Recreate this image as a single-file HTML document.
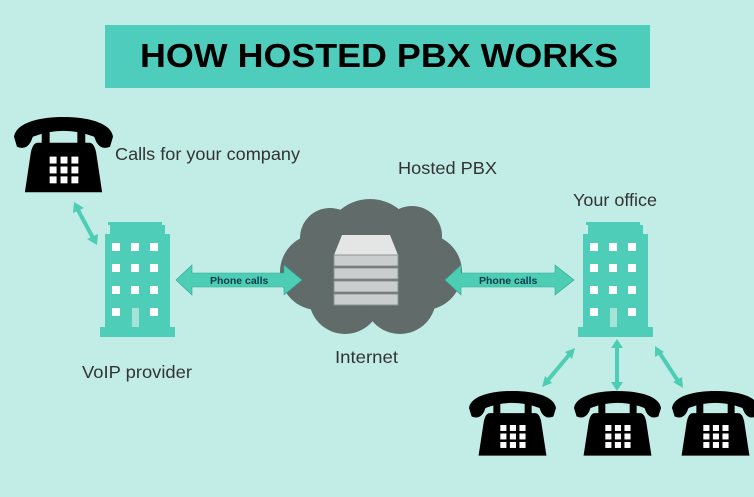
<!DOCTYPE html>
<html><head><meta charset="utf-8"><style>
html,body{margin:0;padding:0;background:#c1ede6;}
svg{display:block}
text{font-family:"Liberation Sans",sans-serif;}
</style></head><body>
<svg width="754" height="497" viewBox="0 0 754 497" xmlns="http://www.w3.org/2000/svg">
<defs>
<g id="phone">
<path d="M0,20 C2,6 25,0 50,0 C75,0 98,6 100,20 L97,30 Q88,34 83,25 L81,20 Q66,14 50,14 Q34,14 19,20 L17,25 Q12,34 3,30 Z" fill="#000"/>
<rect x="28" y="12" width="8" height="20" rx="3" fill="#000"/>
<rect x="64" y="12" width="8" height="20" rx="3" fill="#000"/>
<path d="M24,26 L76,26 Q81,26 83,36 L89,76 L11,76 L17,36 Q19,26 24,26 Z" fill="#000"/>
<g fill="#fff">
<rect x="36" y="40" width="7" height="7"/><rect x="47" y="40" width="7" height="7"/><rect x="58" y="40" width="7" height="7"/>
<rect x="36" y="50" width="7" height="7"/><rect x="47" y="50" width="7" height="7"/><rect x="58" y="50" width="7" height="7"/>
<rect x="36" y="60" width="7" height="7"/><rect x="47" y="60" width="7" height="7"/><rect x="58" y="60" width="7" height="7"/>
</g>
</g>
<g id="bld">
<path d="M8,0 L62,0 L62,3 L65,3 L65,12 L70,12 L70,105 L75,105 L75,115 L0,115 L0,105 L5,105 L5,12 L10,12 L10,3 L8,3 Z" fill="#4ecdb9"/>
<g fill="#fff">
<rect x="12" y="21" width="8" height="8"/><rect x="31" y="21" width="8" height="8"/><rect x="50" y="21" width="8" height="8"/>
<rect x="12" y="42" width="8" height="8"/><rect x="31" y="42" width="8" height="8"/><rect x="50" y="42" width="8" height="8"/>
<rect x="12" y="64" width="8" height="8"/><rect x="31" y="64" width="8" height="8"/><rect x="50" y="64" width="8" height="8"/>
<rect x="12" y="86" width="8" height="8"/><rect x="50" y="86" width="8" height="8"/>
</g>
<rect x="32" y="86" width="7" height="19" fill="#a5e3d8"/>
</g>
<g id="server">
<path d="M-24,-36 L24,-36 L32,-16 L-32,-16 Z" fill="#e4e6e6"/>
<g fill="#c9cdcd" stroke="#8c9393" stroke-width="1">
<rect x="-32" y="-16" width="64" height="11"/>
<rect x="-32" y="-3" width="64" height="11"/>
<rect x="-32" y="10" width="64" height="11"/>
<rect x="-32" y="23" width="64" height="11"/>
</g>
</g>
</defs>

<rect x="105" y="25" width="545" height="63" fill="#4ecdbd"/>
<text x="140" y="67" font-size="33" font-weight="bold" textLength="478" lengthAdjust="spacingAndGlyphs" fill="#000">HOW HOSTED PBX WORKS</text>

<use href="#phone" transform="translate(14,117) scale(0.99,0.99)"/>
<use href="#phone" transform="translate(469,391) scale(0.87,0.85)"/>
<use href="#phone" transform="translate(574,391) scale(0.87,0.85)"/>
<use href="#phone" transform="translate(672,391) scale(0.87,0.85)"/>

<use href="#bld" transform="translate(100,222)"/>
<use href="#bld" transform="translate(578,222)"/>

<g fill="#606b6a">
<circle cx="370" cy="245" r="46"/>
<circle cx="318" cy="272" r="38"/>
<circle cx="424" cy="272" r="38"/>
<circle cx="345" cy="298" r="36"/>
<circle cx="400" cy="298" r="36"/>
<circle cx="330" cy="238" r="30"/>
<circle cx="412" cy="236" r="30"/>
</g>
<use href="#server" transform="translate(366,271)"/>

<g fill="#4ecdb5" stroke="#2fa792" stroke-width="0.6">
<path d="M176,280 L192,265 L192,273 L284,273 L284,265 L302,280 L284,295 L284,287 L192,287 L192,295 Z"/>
<path d="M445,280 L461,265 L461,273 L555,273 L555,265 L574,280 L555,295 L555,287 L461,287 L461,295 Z"/>
</g>
<g stroke="#4ecdb5" stroke-width="4" fill="none">
<line x1="78" y1="210" x2="93" y2="238"/>
<line x1="569" y1="355" x2="548" y2="380"/>
<line x1="617" y1="345" x2="617" y2="385"/>
<line x1="659" y1="352" x2="678" y2="381"/>
</g>
<g fill="#4ecdb5">
<path d="M74,202 L84,208 L73,213 Z"/>
<path d="M97,245 L87,239 L98,234 Z"/>
<path d="M575,348 L572,359 L565,352 Z"/>
<path d="M542,387 L545,376 L552,383 Z"/>
<path d="M617,339 L623,348 L611,348 Z"/>
<path d="M617,391 L623,382 L611,382 Z"/>
<path d="M655,346 L664,352 L655,357 Z"/>
<path d="M683,388 L673,382 L682,377 Z"/>
</g>

<g font-size="10.5" fill="#0d3b4a" font-weight="bold">
<text x="210" y="284">Phone calls</text>
<text x="479" y="284">Phone calls</text>
</g>

<g font-size="17.5" fill="#333">
<text x="115" y="160" textLength="185" lengthAdjust="spacingAndGlyphs">Calls for your company</text>
<text x="398" y="174" textLength="99" lengthAdjust="spacingAndGlyphs">Hosted PBX</text>
<text x="573" y="206" textLength="84" lengthAdjust="spacingAndGlyphs">Your office</text>
<text x="82" y="378" textLength="110" lengthAdjust="spacingAndGlyphs">VoIP provider</text>
<text x="335" y="363" textLength="63" lengthAdjust="spacingAndGlyphs">Internet</text>
</g>
</svg>
</body></html>
